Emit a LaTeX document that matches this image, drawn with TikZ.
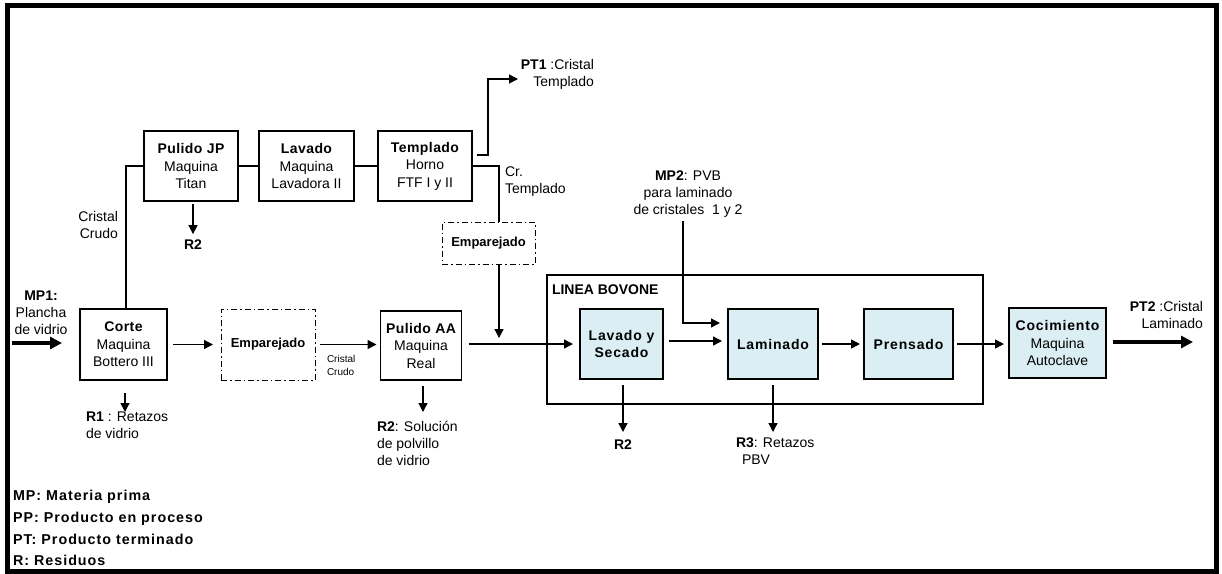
\documentclass[tikz,border=0pt]{standalone}
\usepackage{fontspec}
\setmainfont{Liberation Sans}
\newfontfamily\spaced[LetterSpace=6]{Liberation Sans}
\newfontfamily\lspaced[LetterSpace=7]{Liberation Sans}
\newfontfamily\tspaced[LetterSpace=3]{Liberation Sans}
\usetikzlibrary{arrows.meta,calc}
\definecolor{boxblue}{RGB}{218,238,243}
\newcommand{\ttl}[1]{{\tspaced\bfseries #1}}
\begin{document}
\begin{tikzpicture}[x=1pt,y=-1pt,
  every node/.style={inner sep=0pt, outer sep=0pt},
  txt/.style={font=\fontsize{14}{17}\selectfont},
  btxt/.style={font=\bfseries\fontsize{14}{17}\selectfont},
  legend/.style={anchor=west, font=\lspaced\bfseries\fontsize{14.3}{16}\selectfont},
  proc/.style={draw, line width=1.3pt, align=center, font=\fontsize{14}{17.5}\selectfont},
  blue/.style={proc, fill=boxblue, font=\spaced\bfseries\fontsize{14}{17}\selectfont},
  emp/.style={draw, line width=0.9pt, dash pattern=on 6pt off 3pt on 1.5pt off 3pt, font=\bfseries\fontsize{13}{15}\selectfont},
  conn/.style={line width=1.3pt},
  arr/.style={conn, -{Triangle[length=9pt,width=9pt]}},
  thickarr/.style={line width=4pt, -{Triangle[length=12pt,width=12pt]}}
]
\useasboundingbox (0,0) rectangle (1222,573);
\draw[line width=5pt] (7.5,5.5) rectangle (1216.5,571);

% upper process row
\node[proc, minimum width=94, minimum height=70] (pjp) at (191,166) {\ttl{Pulido JP}\\Maquina\\Titan};
\node[proc, minimum width=95, minimum height=70] (lav) at (306.5,166) {\ttl{Lavado}\\Maquina\\Lavadora II};
\node[proc, minimum width=94, minimum height=70] (tem) at (425,166) {\ttl{Templado}\\Horno\\FTF I y II};

% lower row
\node[proc, minimum width=87, minimum height=71] (corte) at (123.5,344.5) {\ttl{Corte}\\Maquina\\Bottero III};
\node[emp, minimum width=94, minimum height=71] (emp2) at (268,344.5) {Emparejado};
\node[emp, minimum width=93, minimum height=42] (emp1) at (488.5,243) {Emparejado};
\node[proc, minimum width=81, minimum height=69] (paa) at (421,345.5) {\ttl{Pulido AA}\\Maquina\\Real};

\node[draw, line width=1.1pt, minimum width=436, minimum height=129] (bov) at (765,339.5) {};
\node[btxt, anchor=west] (bovl) at (552,290) {LINEA BOVONE};
\node[blue, minimum width=83, minimum height=70] (lys) at (621.5,344) {Lavado y\\Secado};
\node[blue, minimum width=90, minimum height=70] (lam) at (773,344) {Laminado};
\node[blue, minimum width=89, minimum height=70] (pre) at (908.5,344) {Prensado};
\node[proc, fill=boxblue, minimum width=97, minimum height=70] (coc) at (1057.5,343) {{\spaced\bfseries Cocimiento}\\Maquina\\Autoclave};

% labels
\node[txt, align=center] (mp1) at (41,313) {\textbf{MP1:}\\Plancha\\de vidrio};
\node[txt, align=right, anchor=east] (cc1) at (118,225) {Cristal\\Crudo};
\node[txt, align=right, anchor=east] (pt1l) at (594,74) {\textbf{PT1} :Cristal\\Templado};
\node[txt, align=left, anchor=west] (crt) at (505,181.5) {Cr.\\Templado};
\node[txt, align=center] (mp2) at (688,194.5) {\textbf{MP2}: PVB\\para laminado\\de cristales~~1 y 2};
\node[align=left, anchor=north west, font=\fontsize{10}{13}\selectfont] (cc2) at (327,355.5) {Cristal\\Crudo};
\node[txt, align=right, anchor=east] (pt2l) at (1203,315) {\textbf{PT2} :Cristal\\Laminado};

% residues
\node[btxt] (r2a) at (193,245) {R2};
\node[txt, align=left, anchor=west] (r1) at (86,425.5) {\textbf{R1} : Retazos\\de vidrio};
\node[txt, align=left, anchor=west] (r2b) at (377,443) {\textbf{R2}: Soluci\'on\\de polvillo\\de vidrio};
\node[btxt] (r2c) at (623,445) {R2};
\node[txt, align=left, anchor=west] (r3) at (736,451.5) {\textbf{R3}: Retazos\\\hspace*{6pt}PBV};

% legend
\node[legend] (lg1) at (13,497) {MP: Materia prima};
\node[legend] (lg2) at (13,518.5) {PP: Producto en proceso};
\node[legend] (lg3) at (13,539.5) {PT: Producto terminado};
\node[legend] (lg4) at (13,560) {R: Residuos};

% coordinates for free ends
\coordinate (pt1) at (518,79);
\coordinate (join) at (499,338);
\coordinate (mp2in) at (720,323);
\coordinate (mp1s) at (12,343);
\coordinate (pt2) at (1193,342);

% connectors upper row
\draw[conn] (pjp.east) -- (lav.west);
\draw[conn] (lav.east) -- (tem.west);
\draw[conn] ($(corte.north)+(2.5,0)$) |- (pjp.west);
\draw[arr] ($(tem.east)+(5,-11)$) -- ++(11,0) |- (pt1);
\draw[conn] (tem.east) -| ($(emp1.north)+(10.5,0)$);
\draw[arr] ($(emp1.south)+(10.5,0)$) -- (join);

% main flow
\draw[thickarr, shorten >=18pt] (mp1s) -- (mp1s -| corte.west);
\draw[arr, shorten <=6pt, shorten >=8pt] (corte.east) -- (emp2.west);
\draw[arr, shorten <=5pt, shorten >=4pt] (emp2.west -| emp2.east) -- (emp2.west -| paa.west);
\draw[arr, shorten <=7pt, shorten >=7pt] (paa.east |- lys.west) -- (lys.west);
\draw[arr, shorten <=6pt, shorten >=6pt] ($(lys.east)+(0,-3)$) -- ($(lam.west)+(0,-3)$);
\draw[arr, shorten <=4pt, shorten >=4pt] (lam.east) -- (pre.west);
\draw[arr, shorten <=4pt, shorten >=5pt] (pre.east) -- (pre.east -| coc.west);
\draw[thickarr] ($(coc.east)+(7,-1)$) -- (pt2);
\draw[arr] ($(mp2.south)+(-5,3)$) |- (mp2in);

% residue arrows
\draw[arr] ($(pjp.south)+(2,3)$) -- ($(r2a.north)+(0,-6)$);
\draw[arr] ($(corte.south)+(1.5,13)$) -- ($(corte.south)+(1.5,32)$);
\draw[arr] ($(paa.south)+(2,6)$) -- ($(paa.south)+(2,32)$);
\draw[arr] ($(lys.south)+(1.5,6)$) -- ($(lys.south)+(1.5,53)$);
\draw[arr] ($(lam.south)+(0,6)$) -- ($(lam.south)+(0,53)$);
\end{tikzpicture}
\end{document}
